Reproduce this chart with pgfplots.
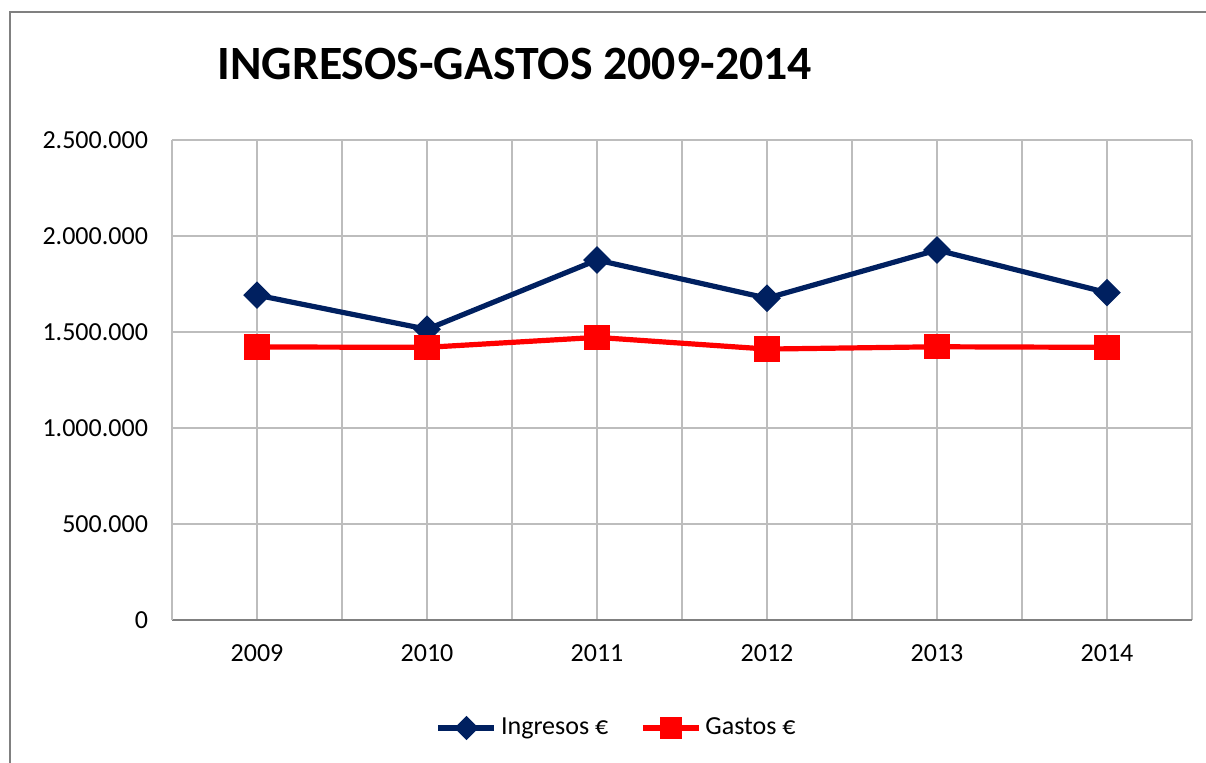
\documentclass[border=0pt]{standalone}
\usepackage{pgfplots}
\pgfplotsset{compat=1.18}
\usepackage{fontspec}
\setmainfont{Carlito}
\definecolor{navy}{HTML}{002060}
\definecolor{gridc}{HTML}{BDBDBD}
\definecolor{framec}{HTML}{808080}
\begin{document}
\begin{tikzpicture}[x=0.5pt,y=0.5pt]
\draw[line width=0.7pt, color=framec] (10,-40) -- (10,751) -- (1260,751);
\node[anchor=base west, inner sep=0pt, font=\bfseries\fontsize{23.9}{28}\selectfont] at (217,683) {INGRESOS-GASTOS 2009-2014};
\begin{axis}[
  at={(86pt,71.5pt)}, anchor=south west,
  scale only axis, width=510pt, height=240pt,
  xmin=-0.5, xmax=5.5, ymin=0, ymax=2500000,
  xtick={0,1,2,3,4,5},
  xticklabels={2009,2010,2011,2012,2013,2014},
  minor xtick={-0.5,0.5,1.5,2.5,3.5,4.5,5.5},
  ytick={0,500000,1000000,1500000,2000000,2500000},
  grid=both,
  grid style={gridc, line width=0.9pt},
  minor grid style={gridc, line width=0.9pt},
  major tick length=0pt, minor tick length=0pt,
  axis lines*=left,
  x axis line style={color=black!50, line width=0.9pt, -},
  y axis line style={color=gridc, line width=0.9pt, -},
  scaled y ticks=false,
  /pgf/number format/fixed,
  /pgf/number format/1000 sep={.},
  /pgf/number format/assume math mode=true,
  tick label style={font=\fontsize{13}{15}\selectfont},
  yticklabel style={xshift=-8.5pt},
  xticklabel style={yshift=-9pt},
  legend style={at={(0.437,-0.225)}, anchor=center, draw=none, legend columns=2,
    font=\fontsize{13}{15}\selectfont,
    /tikz/every even column/.append style={column sep=14pt}},
  legend image code/.code={\draw[mark repeat=2, mark phase=2, #1] plot coordinates {(0pt,0pt) (14pt,0pt) (28pt,0pt)};},
]
\addlegendimage{color=navy, line width=2.6pt, mark=square*, mark size=3pt, mark options={rotate=45, solid}}
\addlegendentry{Ingresos €}
\addlegendimage{color=red, line width=2.6pt, mark=square*, mark size=4.2pt, mark options={solid}}
\addlegendentry{Gastos €}
\addplot[forget plot, color=navy, line width=2.6pt, mark=square*, mark size=3.6pt, mark options={rotate=45, solid}]
  table {
x y
0 1692000
1 1514000
2 1875000
3 1676000
4 1927000
5 1705000
};
\addplot[forget plot, color=red, line width=2.6pt, mark=square*, mark size=5pt, mark options={solid}]
  table {
x y
0 1422000
1 1420000
2 1472000
3 1411000
4 1423000
5 1420000
};
\end{axis}
\pgfresetboundingbox
\useasboundingbox (0,0) rectangle (1206,763);
\end{tikzpicture}
\end{document}
